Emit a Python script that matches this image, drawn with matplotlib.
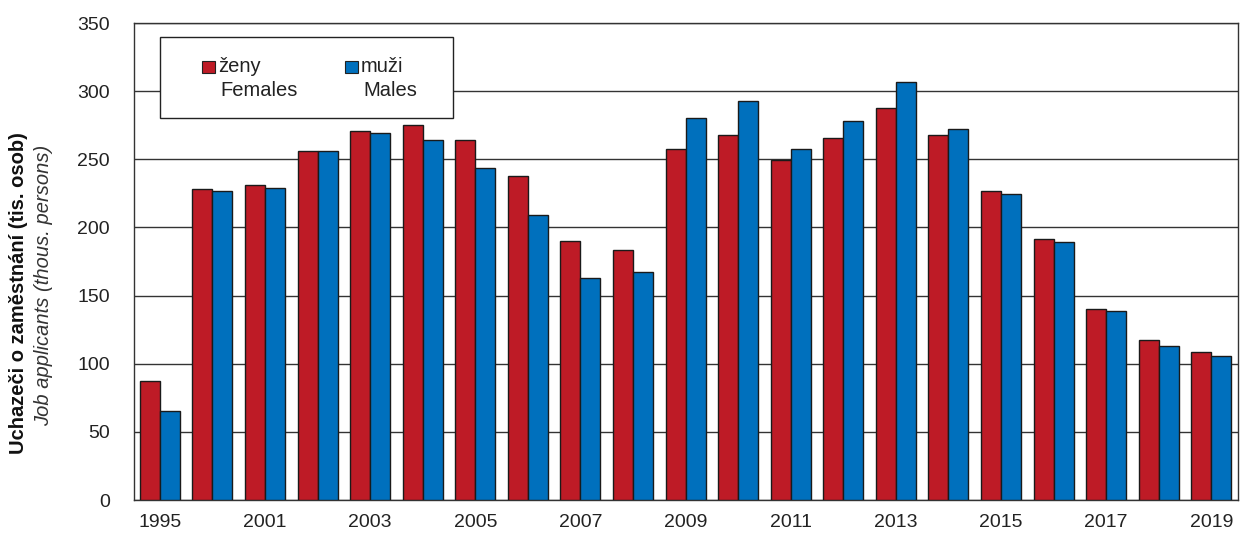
import numpy as np
import matplotlib.pyplot as plt
from matplotlib.patches import Rectangle

plt.rcParams['font.family'] = ['Liberation Sans', 'DejaVu Sans']

years = ['1995', '2000', '2001', '2002', '2003', '2004', '2005', '2006', '2007',
         '2008', '2009', '2010', '2011', '2012', '2013', '2014', '2015', '2016',
         '2017', '2018', '2019']
females = [87.5, 228.5, 231, 256, 271, 275.5, 264, 238, 190, 183.5, 257.5,
           267.5, 249.5, 265.5, 288, 267.5, 226.5, 191.5, 140, 117.5, 108.5]
males = [65, 226.5, 229, 256, 269, 264, 243.5, 209.5, 163, 167.5, 280,
         292.5, 257.5, 278, 306.5, 272, 224.5, 189, 139, 113, 106]

red = '#BE1B26'
blue = '#0070BD'

W, H = 1240, 536
fig = plt.figure(figsize=(12.4, 5.36), dpi=100)
ax = fig.add_axes([0.1077, 0.067, 0.8903, 0.89])

x = np.arange(len(years))
w = 0.38
ax.bar(x - w / 2, females, w, color=red, edgecolor='#1a1a1a', linewidth=1, zorder=3)
ax.bar(x + w / 2, males, w, color=blue, edgecolor='#1a1a1a', linewidth=1, zorder=3)

ax.set_xlim(-0.5, len(years) - 0.5)
ax.set_ylim(0, 350)
ax.set_yticks(np.arange(0, 351, 50))
ax.yaxis.grid(True, color='#333333', linewidth=1, zorder=0)
ax.set_xticks(x)
ax.set_xticklabels([y if i % 2 == 0 else '' for i, y in enumerate(years)])
ax.tick_params(axis='x', length=0, labelsize=14, pad=10, labelcolor='#222222')
ax.tick_params(axis='y', length=0, labelsize=14, pad=17, labelcolor='#222222')
for s in ax.spines.values():
    s.set_color('#333333')
    s.set_linewidth(1)

fig.text(19 / W, 1 - 293 / H, 'Uchazeči o zaměstnání (tis. osob)', rotation=90,
         ha='center', va='center', fontsize=14.5, fontweight='bold', color='#111111')
fig.text(44 / W, 1 - 285 / H, 'Job applicants (thous. persons)', rotation=90,
         ha='center', va='center', fontsize=14.5, style='italic', color='#333333')

# legend box
fig.patches.append(Rectangle((160 / W, 1 - 118 / H), 293 / W, 81 / H,
                             transform=fig.transFigure, facecolor='white',
                             edgecolor='#222222', linewidth=1, zorder=5))
for px, col, l1, l2 in [(202, red, 'ženy', 'Females'), (345, blue, 'muži', 'Males')]:
    fig.patches.append(Rectangle((px / W, 1 - 73 / H), 13 / W, 12 / H,
                                 transform=fig.transFigure, facecolor=col,
                                 edgecolor='#222222', linewidth=0.8, zorder=6))
    fig.text((px + 16) / W, 1 - 67 / H, l1, ha='left', va='center',
             fontsize=14.5, zorder=7, color='#222222')
    fig.text((px + 18) / W, 1 - 90 / H, l2, ha='left', va='center',
             fontsize=14.5, zorder=7, color='#222222')

fig.savefig('out.png', dpi=100)
